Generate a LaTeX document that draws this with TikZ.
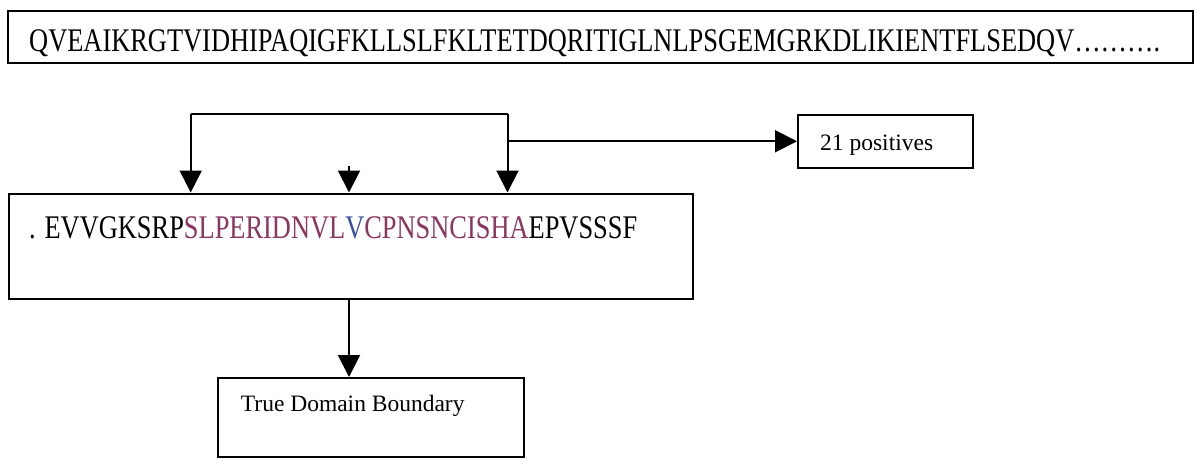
\documentclass[tikz,border=0pt]{standalone}
\usepackage{fontspec}
\setmainfont{Liberation Serif}
\usetikzlibrary{arrows.meta}
\definecolor{seqred}{HTML}{8B3560}
\definecolor{seqblue}{HTML}{3A50A0}
\tikzset{
  box/.style={draw=black, line width=2pt, inner sep=0pt, anchor=north west},
  seqtext/.style={anchor=base west, inner sep=0pt, font=\fontsize{33}{36}\selectfont},
  labtext/.style={anchor=base west, inner sep=0pt, font=\fontsize{23.5}{26}\selectfont},
  link/.style={draw=black, line width=2pt},
  arr/.style={link, -{Triangle[length=22pt,width=22pt]}}
}
\begin{document}
\begin{tikzpicture}[x=1pt,y=-1pt]
\useasboundingbox (0,0) rectangle (1200,464);
% boxes
\node[box, minimum width=1185pt, minimum height=52pt] (top) at (7,9.5) {};
\node[box, minimum width=684pt, minimum height=105.5pt] (mid) at (8,192.5) {};
\node[box, minimum width=174.5pt, minimum height=52.5pt] (pos) at (797,114) {};
\node[box, minimum width=306pt, minimum height=78.5pt] (tdb) at (217,377) {};
% texts
\node[seqtext] (toptext) at (29,51) {\scalebox{0.8}[1]{QVEAIKRGTVIDHIPAQIGFKLLSLFKLTETDQRITIGLNLPSGEMGRKDLIKIENTFLSEDQV……….}};
\node[seqtext] (midtext) at (29,238) {\scalebox{0.8}[1]{. EVVGKSRP\textcolor{seqred}{SLPERIDNVL}\textcolor{seqblue}{V}\textcolor{seqred}{CPNSNCISHA}EPVSSSF}};
\node[labtext] (postext) at (820,150) {21 positives};
\node[labtext] (tdbtext) at (240.7,411.7) {True Domain Boundary};
% connectors
\coordinate (bl) at (190.7,114);
\coordinate (br) at (507.5,114);
\coordinate (ms) at (349,166);
\draw[link] (bl) -- (br);
\draw[arr] (bl) -- (bl |- mid.north);
\draw[arr] (br) -- (br |- mid.north);
\draw[arr] (ms) -- (ms |- mid.north);
\draw[arr] (pos.west -| br) -- (pos.west);
\draw[arr] (mid.south -| ms) -- (tdb.north -| ms);
\end{tikzpicture}
\end{document}
